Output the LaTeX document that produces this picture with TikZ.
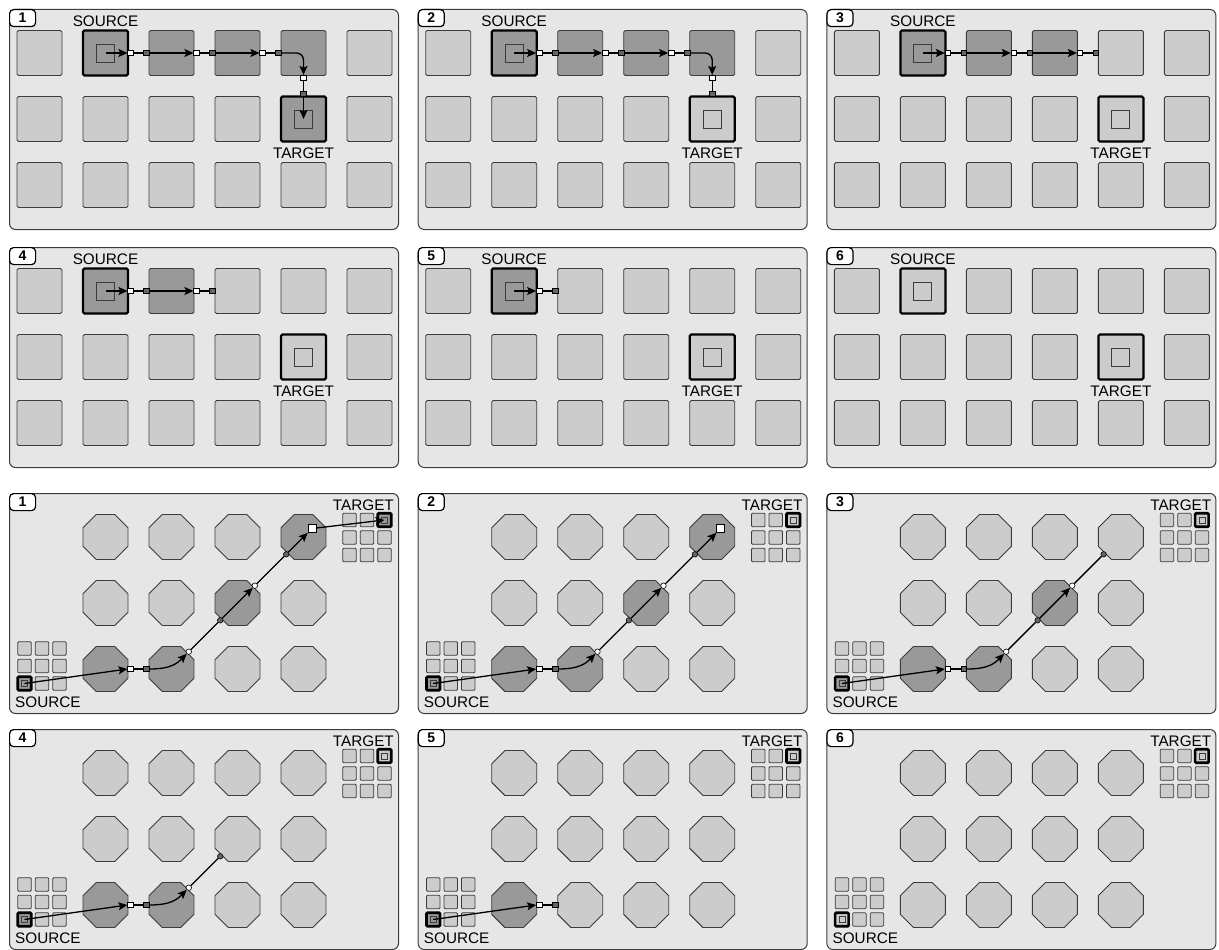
\documentclass[tikz,border=0pt]{standalone}
\usepackage{fontspec}
\setmainfont{Liberation Sans}
\usetikzlibrary{shapes.geometric,arrows.meta}
\definecolor{panelbg}{HTML}{E6E6E6}
\definecolor{cellL}{HTML}{CCCCCC}
\definecolor{cellD}{HTML}{999999}
\definecolor{portD}{HTML}{666666}
\definecolor{edgeC}{HTML}{3C3C3C}
\tikzset{
  panelbox/.style={draw=edgeC, fill=panelbg, rounded corners=6pt, line width=1pt, minimum width=389pt, minimum height=220pt, inner sep=0pt, anchor=north west},
  tagbox/.style={draw=black, fill=white, rounded corners=4pt, line width=1.2pt, minimum width=26pt, minimum height=17pt, inner sep=0pt, anchor=north west, font=\fontsize{14}{14}\selectfont\bfseries},
  cellbox/.style={draw=edgeC, fill=cellL, minimum size=45pt, inner sep=0pt, line width=0.9pt, rounded corners=1.5pt},
  innerbox/.style={draw=edgeC, minimum size=18pt, inner sep=0pt, line width=0.9pt},
  octbox/.style={regular polygon, regular polygon sides=8, minimum size=48.7pt, inner sep=0pt, draw=edgeC, fill=cellL, line width=0.9pt},
  minibox/.style={draw=edgeC, fill=cellL, minimum size=13.5pt, inner sep=0pt, line width=0.8pt, rounded corners=1pt},
  tinybox/.style={draw=edgeC, minimum size=6pt, inner sep=0pt, line width=0.8pt},
  wport/.style={draw=black, fill=white, minimum size=5.5pt, inner sep=0pt, line width=0.6pt},
  dport/.style={draw=black, fill=portD, minimum size=5.5pt, inner sep=0pt, line width=0.6pt},
  wcirc/.style={wport, circle},
  dcirc/.style={dport, circle},
  bigport/.style={wport, minimum size=8pt},
  link/.style={draw=black, line width=1.3pt},
  arr/.style={link, -{Stealth[length=9pt,width=8pt,inset=1.8pt]}},
  lbl/.style={font=\fontsize{15.3}{15.3}\selectfont, inner sep=0pt},
}
\newcommand\TopPanel[4]{%
\begin{scope}[shift={(#2,#3)}]
\node[panelbox] (#1) at (0,0) {};
\node[tagbox] (#1n) at (0,0) {#4};
\pgfmathtruncatemacro\kmax{min(4,6-#4)}
\foreach \ci in {1,...,6}{\foreach \ri in {1,...,3}{%
  \pgfmathtruncatemacro\isdk{((\ri==1)&&(\ci>=2)&&(\ci<=\kmax+1))||((\ci==5)&&(\ri==2)&&(#4==1))}%
  \pgfmathtruncatemacro\isend{((\ci==2)&&(\ri==1))||((\ci==5)&&(\ri==2))}%
  \ifnum\isdk=1 \def\cFill{cellD}\else\def\cFill{cellL}\fi
  \ifnum\isend=1 \def\cLw{2.2pt}\def\cDc{black}\else\def\cLw{0.9pt}\def\cDc{edgeC}\fi
  \node[cellbox, fill=\cFill, draw=\cDc, line width=\cLw] (#1-\ci-\ri) at ({30.5+66*(\ci-1)},{44+66*(\ri-1)}) {};
}}
\node[innerbox] (#1si) at (#1-2-1) {};
\node[innerbox] (#1ti) at (#1-5-2) {};
\node[lbl] (#1sl) at (96.5,12) {SOURCE};
\node[lbl] (#1tl) at (294.5,144) {TARGET};
\ifnum#4<6 \node[wport] (#1w1) at (121.5,44) {}; \node[dport] (#1d2) at (137.5,44) {};
  \draw[arr] (#1-2-1.center) -- (#1w1.west); \draw[link] (#1w1) -- (#1d2); \fi
\ifnum#4<5 \node[wport] (#1w2) at (187.5,44) {}; \node[dport] (#1d3) at (203.5,44) {};
  \draw[arr] (#1d2) -- (#1w2); \draw[link] (#1w2) -- (#1d3); \fi
\ifnum#4<4 \node[wport] (#1w3) at (253.5,44) {}; \node[dport] (#1d4) at (269.5,44) {};
  \draw[arr] (#1d3) -- (#1w3); \draw[link] (#1w3) -- (#1d4); \fi
\ifnum#4<3 \node[wport] (#1w4) at (294.5,69) {}; \node[dport] (#1d5) at (294.5,85) {};
  \draw[arr, rounded corners=7pt] (#1d4.east) -| (#1w4.north); \draw[link] (#1w4) -- (#1d5); \fi
\ifnum#4<2 \draw[arr] (#1d5) -- (#1-5-2.center); \fi
\end{scope}}
\newcommand\BotPanel[4]{%
\begin{scope}[shift={(#2,#3)}]
\node[panelbox] (#1) at (0,0) {};
\node[tagbox] (#1n) at (0,0) {#4};
\pgfmathtruncatemacro\kmax{min(4,6-#4)}
\foreach \ci in {1,...,4}{\foreach \ri in {1,...,3}{%
  \pgfmathtruncatemacro\isdk{((\ci==1)&&(\ri==3)&&(\kmax>=1))||((\ci==2)&&(\ri==3)&&(\kmax>=2))||((\ci==3)&&(\ri==2)&&(\kmax>=3))||((\ci==4)&&(\ri==1)&&(\kmax>=4))}%
  \ifnum\isdk=1 \def\cFill{cellD}\else\def\cFill{cellL}\fi
  \node[octbox, fill=\cFill] (#1-\ci-\ri) at ({96.5+66*(\ci-1)},{44+66*(\ri-1)}) {};
}}
\foreach \ci in {1,...,3}{\foreach \ri in {1,...,3}{%
  \pgfmathtruncatemacro\iss{(\ci==1)&&(\ri==3)}%
  \pgfmathtruncatemacro\ist{(\ci==3)&&(\ri==1)}%
  \def\sFill{cellL}\def\sLw{0.8pt}\def\sDc{edgeC}%
  \def\tFill{cellL}\def\tLw{0.8pt}\def\tDc{edgeC}%
  \ifnum\iss=1 \def\sLw{2.6pt}\def\sDc{black}\ifnum#4<6 \def\sFill{cellD}\fi\fi
  \ifnum\ist=1 \def\tLw{2.6pt}\def\tDc{black}\ifnum#4<2 \def\tFill{cellD}\fi\fi
  \node[minibox, fill=\sFill, draw=\sDc, line width=\sLw] (#1s-\ci-\ri) at ({15.5+17.5*(\ci-1)},{155.5+17.5*(\ri-1)}) {};
  \node[minibox, fill=\tFill, draw=\tDc, line width=\tLw] (#1t-\ci-\ri) at ({340.5+17.5*(\ci-1)},{27+17.5*(\ri-1)}) {};
}}
\node[tinybox] (#1sx) at (#1s-1-3) {};
\node[tinybox] (#1tx) at (#1t-3-1) {};
\node[lbl, anchor=west] (#1sl) at (6,209) {SOURCE};
\node[lbl, anchor=east] (#1tl) at (385,12) {TARGET};
\ifnum#4<6 \node[wport] (#1w1) at (121.5,176) {}; \node[dport] (#1d2) at (137.5,176) {};
  \draw[arr] (#1s-1-3.center) -- (#1w1.west); \draw[link] (#1w1) -- (#1d2); \fi
\ifnum#4<5 \node[wcirc] (#1w2) at (179.8,158.7) {}; \node[dcirc] (#1d3) at (211.2,127.3) {};
  \draw[arr] (#1d2.east) .. controls +(22,0) and +(-9,9) .. (#1w2.south west); \draw[link] (#1w2) -- (#1d3); \fi
\ifnum#4<4 \node[wcirc] (#1w3) at (245.8,92.7) {}; \node[dcirc] (#1d4) at (277.2,61.3) {};
  \draw[arr] (#1d3) -- (#1w3); \draw[link] (#1w3) -- (#1d4); \fi
\ifnum#4<3 \node[bigport] (#1w4) at (303,35.5) {};
  \draw[arr] (#1d4) -- (#1w4); \fi
\ifnum#4<2 \draw[arr] (#1w4) -- (#1t-3-1.center); \fi
\end{scope}}
\begin{document}
\begin{tikzpicture}[x=1pt,y=-1pt]
\useasboundingbox (0,0) rectangle (1219,950);
\TopPanel{pa}{9}{9}{1}
\TopPanel{pb}{417.7}{9}{2}
\TopPanel{pc}{826.4}{9}{3}
\TopPanel{pd}{9}{247}{4}
\TopPanel{pe}{417.7}{247}{5}
\TopPanel{pf}{826.4}{247}{6}
\BotPanel{qa}{9}{493}{1}
\BotPanel{qb}{417.7}{493}{2}
\BotPanel{qc}{826.4}{493}{3}
\BotPanel{qd}{9}{729}{4}
\BotPanel{qe}{417.7}{729}{5}
\BotPanel{qf}{826.4}{729}{6}
\end{tikzpicture}
\end{document}
